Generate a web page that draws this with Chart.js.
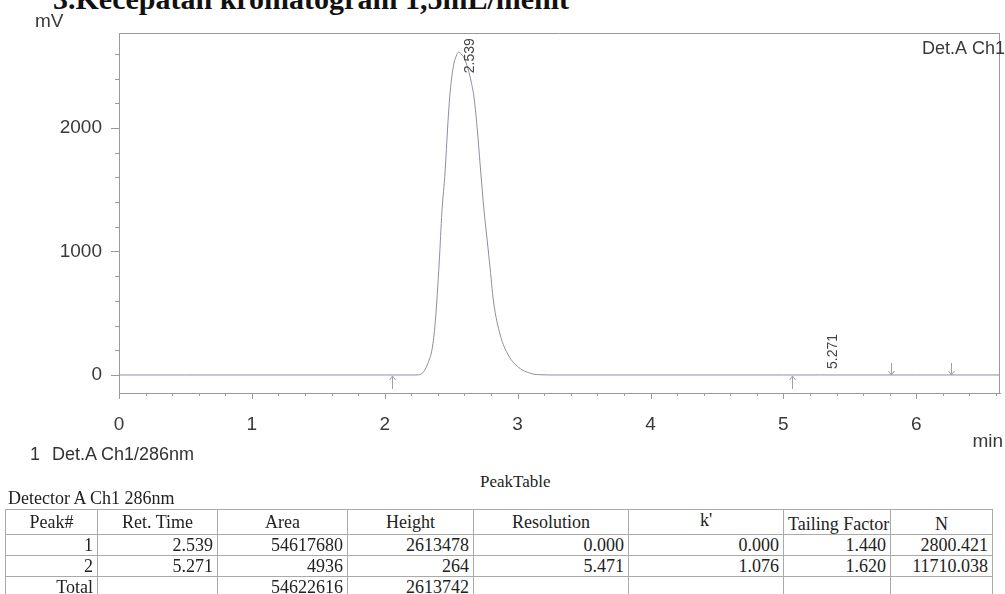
<!DOCTYPE html>
<html>
<head>
<meta charset="utf-8">
<script src="https://cdn.jsdelivr.net/npm/chart.js@4.4.1/dist/chart.umd.min.js"></script>
<style>
  html, body { margin: 0; padding: 0; background: #fff; }
  body { width: 1005px; height: 594px; position: relative; overflow: hidden; font-family: "Liberation Sans", Arial, sans-serif; color: #333; }
  #wrap { position: absolute; left: 0; top: 0; width: 1005px; height: 470px; }
  .title { position: absolute; left: 53px; top: -16px; font: bold 30px/30px "Liberation Serif", "Times New Roman", serif; color: #111; white-space: nowrap; }
  .chan { position: absolute; left: 30px; top: 443px; font-size: 18px; line-height: 22px; color: #333; white-space: nowrap; }
  .chan span { margin-right: 12px; }
  .ptitle { position: absolute; left: 480px; top: 472px; font: 17px/20px "Liberation Serif", "Times New Roman", serif; color: #222; }
  .det { position: absolute; left: 8px; top: 487px; font: 18px/22px "Liberation Serif", "Times New Roman", serif; color: #222; white-space: nowrap; }
  #peaks { position: absolute; left: 5px; top: 509px; border-collapse: collapse; table-layout: fixed; width: 987px;
           font: 18px "Liberation Serif", "Times New Roman", serif; color: #222; }
  #peaks td { border: 1px solid #aaa; height: 20px; line-height: 20px; padding: 0 4px; text-align: right; white-space: nowrap; overflow: hidden; }
  #peaks tr.head td { text-align: center; }
  #peaks td.up { line-height: 16px; padding-bottom: 4px; }
  #peaks td.down { padding-top: 4px; line-height: 18px; }
</style>
</head>
<body>
<div class="title">3.Kecepatan kromatogram 1,5mL/menit</div>
<div id="wrap"><canvas id="chrom" width="1005" height="470"></canvas></div>
<div class="chan"><span>1</span>Det.A Ch1/286nm</div>
<div class="ptitle">PeakTable</div>
<div class="det">Detector A Ch1 286nm</div>
<table id="peaks">
  <colgroup>
    <col style="width:92px"><col style="width:120px"><col style="width:130px"><col style="width:126px">
    <col style="width:155px"><col style="width:155px"><col style="width:107px"><col style="width:102px">
  </colgroup>
  <tbody></tbody>
</table>
<script>
// chromatogram trace
const timeMin = [0, 0.5, 1, 1.5, 2, 2.244, 2.28, 2.304, 2.33, 2.357, 2.38, 2.41, 2.43, 2.454, 2.467, 2.479,
    2.492, 2.518, 2.538, 2.555, 2.575, 2.593, 2.618, 2.651, 2.673, 2.698, 2.718, 2.748, 2.764, 2.788, 2.819,
    2.869, 2.929, 3.02, 3.08, 3.147, 3.3, 3.6, 4, 4.5, 5, 5.2, 5.271, 5.35, 5.6, 6, 6.3, 6.63];
const signalMv = [0, 0, 0, 0, 0, 0, 12, 45, 110, 215, 429, 915, 1320, 1644, 1887, 2105,
    2291, 2508, 2583, 2613, 2600, 2575, 2508, 2372, 2237, 1968, 1700, 1320, 1158, 915, 591,
    324, 162, 51, 20, 3, 0, 0, 0, 0, 0, 0, 0.3, 0, 0, 0, 0, 0];

const peakTimes = [2.539, 5.271];
const peakHeightsMv = [2613.478, 0.264];
const peakLabels = ['2.539', '5.271'];
const startMarks = [2.055, 5.064];
const endMarks = [5.806, 6.26];

const xTicks = [0, 1, 2, 3, 4, 5, 6];
const yTicks = [0, 1000, 2000];
const yMinor = [200, 400, 600, 800, 1200, 1400, 1600, 1800, 2200, 2400, 2600];

// peak table
const headers = ['Peak#', 'Ret. Time', 'Area', 'Height', 'Resolution', "k'", 'Tailing Factor', 'N'];
const peakNo = ['1', '2'];
const retTime = ['2.539', '5.271'];
const area = ['54617680', '4936'];
const height = ['2613478', '264'];
const resolution = ['0.000', '5.471'];
const kPrime = ['0.000', '1.076'];
const tailing = ['1.440', '1.620'];
const plates = ['2800.421', '11710.038'];
const totalRow = ['Total', '', '54622616', '2613742', '', '', '', ''];

const tbody = document.querySelector('#peaks tbody');
const addRow = (cells, cls) => {
    const tr = document.createElement('tr');
    if (cls) tr.className = cls;
    cells.forEach((c, i) => {
        const td = document.createElement('td');
        td.textContent = c;
        if (cls === 'head' && i === 5) td.className = 'up';
        if (cls === 'head' && i >= 6) td.className = 'down';
        tr.appendChild(td);
    });
    tbody.appendChild(tr);
};
addRow(headers, 'head');
peakNo.forEach((p, i) => addRow([p, retTime[i], area[i], height[i], resolution[i], kPrime[i], tailing[i], plates[i]]));
addRow(totalRow);

const axisFont = { family: '"Liberation Sans", Arial, sans-serif', size: 19 };
const textColor = '#3a3a3a';
const frameColor = '#9a9a9a';

const decor = {
    id: 'decor',
    afterDraw(chart) {
        const { ctx, chartArea: a, scales: { x, y } } = chart;
        ctx.save();
        ctx.strokeStyle = frameColor;
        ctx.lineWidth = 1;
        ctx.beginPath();
        ctx.moveTo(a.left, a.top + 0.5);
        ctx.lineTo(a.right, a.top + 0.5);
        ctx.moveTo(a.right - 0.5, a.top);
        ctx.lineTo(a.right - 0.5, a.bottom);
        yTicks.forEach(v => {
            const p = Math.round(y.getPixelForValue(v)) + 0.5;
            ctx.moveTo(a.left - 8, p); ctx.lineTo(a.left, p);
        });
        yMinor.forEach(v => {
            const p = Math.round(y.getPixelForValue(v)) + 0.5;
            ctx.moveTo(a.left - 4, p); ctx.lineTo(a.left, p);
        });
        xTicks.forEach(v => {
            const p = Math.round(x.getPixelForValue(v)) + 0.5;
            ctx.moveTo(p, a.bottom); ctx.lineTo(p, a.bottom + 6);
        });
        for (let v = 0.2; v < x.max; v += 0.2) {
            if (Math.abs(v - Math.round(v)) < 0.01) continue;
            const p = Math.round(x.getPixelForValue(v)) + 0.5;
            ctx.moveTo(p, a.bottom); ctx.lineTo(p, a.bottom + 3);
        }
        ctx.stroke();

        // peak start / end marks
        const y0 = y.getPixelForValue(0);
        ctx.strokeStyle = '#a0a0a8';
        ctx.beginPath();
        startMarks.forEach(t => {
            const p = Math.round(x.getPixelForValue(t)) + 0.5;
            ctx.moveTo(p, y0 + 1); ctx.lineTo(p, y0 + 14);
            ctx.moveTo(p - 3, y0 + 5); ctx.lineTo(p, y0 + 1); ctx.lineTo(p + 3, y0 + 5);
        });
        endMarks.forEach(t => {
            const p = Math.round(x.getPixelForValue(t)) + 0.5;
            ctx.moveTo(p, y0 - 12); ctx.lineTo(p, y0);
            ctx.moveTo(p - 3, y0 - 4); ctx.lineTo(p, y0); ctx.lineTo(p + 3, y0 - 4);
        });
        ctx.stroke();

        // retention time labels
        ctx.fillStyle = '#444';
        ctx.font = '14px "Liberation Sans", Arial, sans-serif';
        peakTimes.forEach((t, i) => {
            const px = x.getPixelForValue(t) + 14;
            const py = Math.min(y.getPixelForValue(peakHeightsMv[i]) + 21, y0 - 6);
            ctx.save();
            ctx.translate(px, py);
            ctx.rotate(-Math.PI / 2);
            ctx.textAlign = 'left';
            ctx.textBaseline = 'middle';
            ctx.fillText(peakLabels[i], 0, 0);
            ctx.restore();
        });

        // axis titles and channel name
        ctx.fillStyle = textColor;
        ctx.font = '19px "Liberation Sans", Arial, sans-serif';
        ctx.textBaseline = 'middle';
        ctx.textAlign = 'left';
        ctx.fillText('mV', a.left - 84, 22);
        ctx.textAlign = 'right';
        ctx.fillText('min', a.right + 3, a.bottom + 49);
        ctx.font = '18px "Liberation Sans", Arial, sans-serif';
        ctx.textAlign = 'left';
        ctx.fillText('Det.A Ch1', a.right - 78, a.top + 16);
        ctx.restore();
    }
};

new Chart(document.getElementById('chrom'), {
    type: 'line',
    data: {
        datasets: [{
            data: timeMin.map((t, i) => ({ x: t, y: signalMv[i] })),
            borderColor: '#8a90a0',
            borderWidth: 1,
            pointRadius: 0,
            fill: false,
            cubicInterpolationMode: 'monotone'
        }]
    },
    options: {
        responsive: false,
        animation: false,
        layout: { padding: { left: 0, right: 5, top: 33, bottom: 0 } },
        plugins: { legend: { display: false }, tooltip: { enabled: false } },
        scales: {
            x: {
                type: 'linear', min: 0, max: 6.63,
                grid: { display: false },
                border: { color: frameColor },
                afterBuildTicks: s => { s.ticks = xTicks.map(v => ({ value: v })); },
                afterFit: s => { s.height = 77; },
                ticks: { padding: 12, font: axisFont, color: textColor, maxRotation: 0, autoSkip: false,
                         callback: v => String(v) }
            },
            y: {
                min: -146, max: 2769,
                grid: { display: false },
                border: { color: frameColor },
                afterBuildTicks: s => { s.ticks = yTicks.map(v => ({ value: v })); },
                afterFit: s => { s.width = 119; },
                ticks: { padding: 9, font: axisFont, color: textColor, callback: v => String(v) }
            }
        }
    },
    plugins: [decor]
});
</script>
</body>
</html>
